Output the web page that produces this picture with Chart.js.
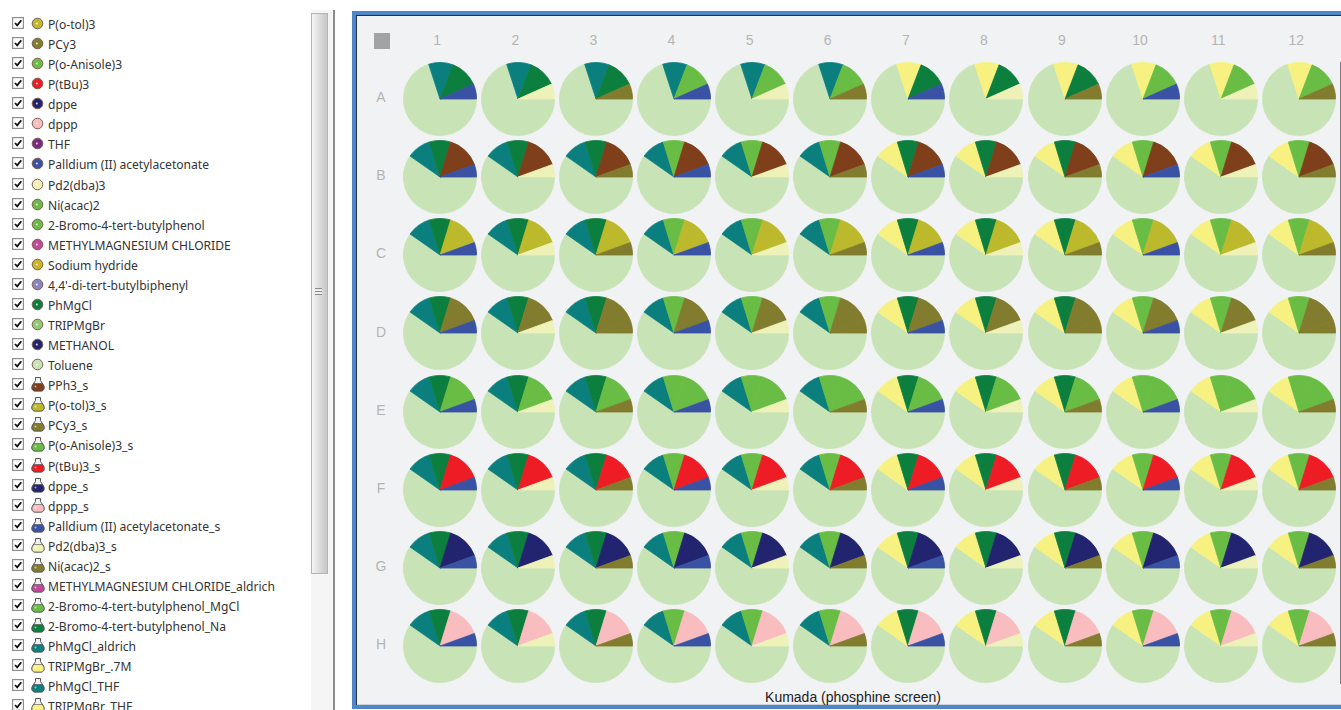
<!DOCTYPE html>
<html>
<head>
<meta charset="utf-8">
<title>Kumada (phosphine screen)</title>
<script src="https://cdn.jsdelivr.net/npm/chart.js@4/dist/chart.umd.min.js"></script>
<style>
    html, body { margin: 0; padding: 0; background: #fff; overflow: hidden; }
    #page { position: relative; width: 1341px; height: 710px; overflow: hidden; font-family: "Noto Sans", sans-serif; }

    /* Left reagent list */
    .item { position: absolute; left: 12px; height: 20px; width: 295px; white-space: nowrap; }
    .item svg { position: absolute; }
    .item span { position: absolute; left: 36px; top: 1px; font-size: 12.1px; line-height: 18px; color: #333; }
    #scrollThumb { position: absolute; left: 311px; top: 13px; width: 15px; height: 559px; border: 1px solid #b4b4b4;
                   background: linear-gradient(90deg, #f4f4f4, #dcdcdc 50%, #c6c6c6); }
    #scrollTrack { position: absolute; left: 311px; top: 10px; width: 22px; height: 700px; background: #f5f5f5; }
    #divider { position: absolute; left: 333px; top: 10px; width: 2px; height: 700px; background: #8c8c8c; }
    #grip { position: absolute; left: 315px; top: 288px; width: 7px; height: 7px;
            background: repeating-linear-gradient(180deg, #8a8a8a 0 1px, #eee 1px 3px); }

    /* Plate frame */
    #frame { position: absolute; left: 352px; top: 11px; width: 1000px; height: 698px; box-sizing: border-box;
             border: 4px solid #4f87c6; background: #f1f2f3; box-shadow: inset 1px 1px 0 #24303c, inset 0 -1px 0 #c9d3de; }
    #edge { position: absolute; left: 1340px; top: 62px; width: 1px; height: 622px; background: #808080; }
    #corner { position: absolute; left: 374px; top: 33px; width: 16px; height: 16px; background: #a3a3a3; }
    .well { position: absolute; width: 74px; height: 74px; }
    .colLabel, .rowLabel { position: absolute; font-family: "Liberation Sans", sans-serif; font-size: 14px; color: #b4b4b4;
                           text-align: center; width: 30px; height: 16px; line-height: 16px; }
    #plateTitle { position: absolute; left: 653px; top: 689px; width: 400px; text-align: center;
                  font-family: "Liberation Sans", sans-serif; font-size: 14px; line-height: 16px; color: #222; }
</style>
</head>
<body>
<div id="page">
    <div id="scrollTrack"></div>
    <div id="scrollThumb"></div>
    <div id="grip"></div>
    <div id="divider"></div>
    <div id="frame"></div>
    <div id="edge"></div>
    <div id="corner"></div>
    <div id="plateTitle">Kumada (phosphine screen)</div>
</div>

<script>
// Plate axes
const rowLabels = ['A', 'B', 'C', 'D', 'E', 'F', 'G', 'H'];
const colLabels = ['1', '2', '3', '4', '5', '6', '7', '8', '9', '10', '11', '12'];

// Slice sizes per plate row (degrees of the pie)
const tolueneByRow  = [252, 215, 215, 215, 215, 215, 215, 215];
const grignardByRow = [39, 38, 38, 38, 38, 38, 38, 38];
const arylByRow     = [45, 34, 34, 34, 34, 34, 34, 34];
const ligandByRow   = [0, 53, 53, 53, 53, 53, 53, 53];
const metalByRow    = [24, 20, 20, 20, 20, 20, 20, 20];

// Slice colours
const tolueneColor = '#c8e3b6';
const grignardByCol = ['#0b7f7e', '#0b7f7e', '#0b7f7e', '#0b7f7e', '#0b7f7e', '#0b7f7e',
                       '#f7f181', '#f7f181', '#f7f181', '#f7f181', '#f7f181', '#f7f181'];
const arylByCol = ['#0c7f3f', '#0c7f3f', '#0c7f3f', '#69bd45', '#69bd45', '#69bd45',
                   '#0c7f3f', '#0c7f3f', '#0c7f3f', '#69bd45', '#69bd45', '#69bd45'];
const metalByCol = ['#3952a3', '#eef2b8', '#817c2e', '#3952a3', '#eef2b8', '#817c2e',
                    '#3952a3', '#eef2b8', '#817c2e', '#3952a3', '#eef2b8', '#817c2e'];
const ligandColorByRow = ['#7e3f1a', '#7e3f1a', '#bdb92c', '#817c2e', '#69bd45', '#ee1c25', '#23246f', '#f9bdbf'];

// Left hand reagent list
const listNames = ['P(o-tol)3', 'PCy3', 'P(o-Anisole)3', 'P(tBu)3', 'dppe', 'dppp', 'THF',
    'Palldium (II) acetylacetonate', 'Pd2(dba)3', 'Ni(acac)2', '2-Bromo-4-tert-butylphenol',
    'METHYLMAGNESIUM CHLORIDE', 'Sodium hydride', "4,4'-di-tert-butylbiphenyl", 'PhMgCl', 'TRIPMgBr',
    'METHANOL', 'Toluene', 'PPh3_s', 'P(o-tol)3_s', 'PCy3_s', 'P(o-Anisole)3_s', 'P(tBu)3_s', 'dppe_s',
    'dppp_s', 'Palldium (II) acetylacetonate_s', 'Pd2(dba)3_s', 'Ni(acac)2_s',
    'METHYLMAGNESIUM CHLORIDE_aldrich', '2-Bromo-4-tert-butylphenol_MgCl', '2-Bromo-4-tert-butylphenol_Na',
    'PhMgCl_aldrich', 'TRIPMgBr_.7M', 'PhMgCl_THF', 'TRIPMgBr_THF'];
const listColors = ['#bdb92c', '#817c2e', '#69bd45', '#ee1c25', '#23246f', '#f9bdbf', '#7b2a86',
    '#3952a3', '#eef2b8', '#69bd45', '#69bd45', '#c0489b', '#c9b526', '#8a86c4', '#0c7f3f', '#8fc970',
    '#23246f', '#c8e3b6', '#7e3f1a', '#bdb92c', '#817c2e', '#69bd45', '#ee1c25', '#23246f', '#f9bdbf',
    '#3952a3', '#eef2b8', '#817c2e', '#c0489b', '#69bd45', '#0c7f3f', '#0b7f7e', '#f7f181', '#0b7f7e', '#f7f181'];
const firstFlaskIndex = 18;

const page = document.getElementById('page');

function addLabel(className, text, x, y) {
    const el = document.createElement('div');
    el.className = className;
    el.textContent = text;
    el.style.left = (x - 15) + 'px';
    el.style.top = (y - 8) + 'px';
    page.appendChild(el);
}

function reagentIcon(color, isFlask) {
    if (isFlask) {
        return `<svg style="left:19px;top:0" width="14" height="16" viewBox="0 0 14 16">
            <path d="M4.500 1.500h5v3l3 4.500c1.500 3 .5 6-2.500 6h-6c-3 0-4-3-2.500-6l3-4.500z" fill="#f2f2f2" stroke="#555" stroke-width="1"/>
            <path d="M3 7.500h8l1.500 2c1.200 2.600 0 5.500-2.500 5.500h-6c-2.500 0-3.700-2.900-2.500-5.500z" fill="${color}" stroke="#4a4a4a" stroke-width=".6"/>
            <circle cx="4.500" cy="10.500" r="1" fill="#fff" opacity=".6"/></svg>`;
    }
    return `<svg style="left:19px;top:2px" width="13" height="13" viewBox="0 0 13 13">
        <circle cx="6.500" cy="6.500" r="5.300" fill="${color}" stroke="#7a5a4a" stroke-width="1"/>
        <circle cx="5.800" cy="6.500" r="1" fill="#fff" opacity=".85"/></svg>`;
}

// Build the reagent list
listNames.forEach((name, i) => {
    const item = document.createElement('div');
    item.className = 'item';
    item.style.top = (15 + i * 20.07) + 'px';
    item.innerHTML = `<svg style="left:0;top:2px" width="12" height="12" viewBox="0 0 12 12">
            <rect x=".6" y=".6" width="10.800" height="10.800" fill="#fff" stroke="#8e8f8f" stroke-width="1.200"/>
            <path d="M3 6l2.200 2.300L9.300 3.300" fill="none" stroke="#111" stroke-width="1.800"/></svg>`
        + reagentIcon(listColors[i], i >= firstFlaskIndex)
        + `<span>${name}</span>`;
    page.appendChild(item);
});

// Plate labels
const firstColX = 439.2, colStep = 78.1;
const firstRowY = 98.2, rowStep = 78.2;
colLabels.forEach((label, c) => addLabel('colLabel', label, firstColX - 2 + c * colStep, 40));
rowLabels.forEach((label, r) => addLabel('rowLabel', label, 381, firstRowY - 1 + r * 78.1));

// One pie per well, drawn clockwise from 3 o'clock
rowLabels.forEach((rowLabel, r) => {
    colLabels.forEach((colLabel, c) => {
        const canvas = document.createElement('canvas');
        canvas.className = 'well';
        canvas.width = 74;
        canvas.height = 74;
        canvas.style.left = Math.round(firstColX + c * colStep - 36.5) + 'px';
        canvas.style.top = Math.round(firstRowY + r * rowStep - 36.5) + 'px';
        page.appendChild(canvas);

        const sliceColors = [tolueneColor, grignardByCol[c], arylByCol[c], ligandColorByRow[r], metalByCol[c]];
        new Chart(canvas.getContext('2d'), {
            type: 'pie',
            data: {
                labels: ['Toluene', 'Grignard', 'Aryl', 'Ligand', 'Metal'],
                datasets: [{
                    data: [tolueneByRow[r], grignardByRow[r], arylByRow[r], ligandByRow[r], metalByRow[r]],
                    backgroundColor: sliceColors,
                    borderColor: sliceColors,   // same colour, hides the seam between equal slices
                    borderWidth: 0.8
                }]
            },
            options: {
                responsive: false,
                animation: false,
                devicePixelRatio: 1,
                rotation: 90,
                layout: { padding: 0 },
                plugins: { legend: { display: false }, tooltip: { enabled: false } }
            }
        });
    });
});
</script>
</body>
</html>
